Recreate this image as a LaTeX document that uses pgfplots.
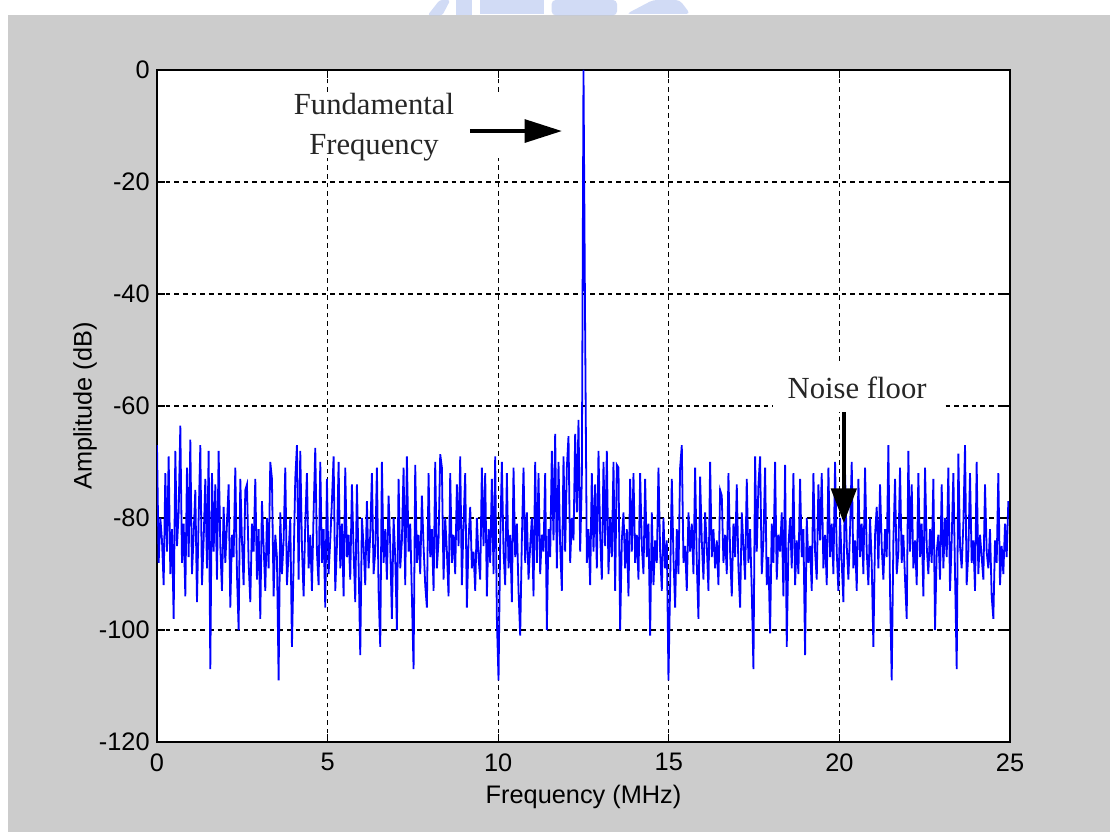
\documentclass[border=0pt]{standalone}
\usepackage{pgfplots}
\pgfplotsset{compat=1.18}
\usepackage{pgfplotstable}
\usepackage{fontspec}
\setmainfont{Liberation Sans}
\newfontfamily\timesfont{Liberation Serif}
\usetikzlibrary{arrows.meta}
\definecolor{figgray}{RGB}{204,204,204}
\definecolor{wm}{RGB}{172,190,238}

\pgfplotstableread[row sep=\\]{
y\\
-67\\ -88\\ -80\\ -84\\ -92\\ -72\\ -86\\ -69\\ -90\\ -82\\ -98\\ -68\\ -85\\ -79\\ -63.5\\ -88\\
-81\\ -94\\ -71\\ -87\\ -66\\ -90\\ -83\\ -75\\ -95\\ -80\\ -67\\ -92\\ -84\\ -73\\ -89\\ -68\\
-107\\ -72\\ -86\\ -74\\ -91\\ -68\\ -85\\ -93\\ -78\\ -88\\ -81\\ -74\\ -96\\ -83\\ -87\\ -71\\
-90\\ -100\\ -73\\ -84\\ -92\\ -75\\ -74\\ -88\\ -95\\ -81\\ -86\\ -73\\ -91\\ -82\\ -98\\ -77\\
-85\\ -93\\ -80\\ -89\\ -70\\ -73\\ -94\\ -83\\ -87\\ -109\\ -79\\ -90\\ -84\\ -71\\ -92\\ -86\\
-80\\ -103\\ -88\\ -73\\ -67\\ -91\\ -68\\ -85\\ -94\\ -81\\ -72\\ -89\\ -83\\ -93\\ -79\\ -67.5\\
-86\\ -92\\ -70\\ -88\\ -82\\ -96\\ -73\\ -90\\ -84\\ -77\\ -69\\ -93\\ -85\\ -70\\ -89\\ -81\\
-94\\ -71\\ -87\\ -83\\ -91\\ -74\\ -86\\ -95\\ -74\\ -88\\ -104.5\\ -80\\ -85\\ -92\\ -77\\ -89\\
-83\\ -72\\ -90\\ -86\\ -71\\ -93\\ -103\\ -70\\ -88\\ -82\\ -91\\ -76\\ -85\\ -98\\ -80\\ -87\\
-100\\ -73\\ -89\\ -84\\ -71\\ -92\\ -69\\ -86\\ -81\\ -94\\ -107\\ -70.5\\ -88\\ -83\\ -90\\ -76\\
-85\\ -92\\ -96\\ -72\\ -87\\ -82\\ -93\\ -70\\ -89\\ -84\\ -68.6\\ -71\\ -91\\ -80\\ -86\\ -94\\
-72\\ -88\\ -83\\ -90\\ -74\\ -85\\ -69\\ -92\\ -81\\ -72\\ -96\\ -84\\ -78\\ -89\\ -86\\ -93\\
-80\\ -87\\ -91\\ -71\\ -85\\ -72\\ -94\\ -82\\ -88\\ -73\\ -90\\ -69\\ -98\\ -109\\ -84\\ -70\\
-86\\ -92\\ -72\\ -89\\ -83\\ -95\\ -71\\ -87\\ -81\\ -93\\ -101\\ -84\\ -71\\ -88\\ -79\\ -91\\
-85\\ -80\\ -94\\ -70\\ -88\\ -72\\ -90\\ -83\\ -86\\ -72\\ -100\\ -82\\ -87\\ -68\\ -84\\ -65\\
-89\\ -70\\ -85\\ -93\\ -69\\ -86\\ -71\\ -65.4\\ -88\\ -80\\ -84\\ -65\\ -79\\ -62.5\\ -86\\ -73\\
0\\ -47\\ -88\\ -82\\ -92\\ -72\\ -86\\ -74\\ -89\\ -68\\ -83\\ -91\\ -70\\ -85\\ -68\\ -90\\
-80\\ -87\\ -70\\ -93\\ -70.5\\ -71\\ -100\\ -84\\ -79\\ -89\\ -82\\ -94\\ -73\\ -86\\ -72\\ -88\\
-83\\ -91\\ -72\\ -85\\ -90\\ -73\\ -87\\ -81\\ -101\\ -79\\ -92\\ -84\\ -88\\ -71\\ -86\\ -93\\
-80\\ -89\\ -84\\ -109\\ -92\\ -73\\ -87\\ -96\\ -82\\ -90\\ -71\\ -67\\ -88\\ -85\\ -93\\ -79\\
-86\\ -81\\ -90\\ -71\\ -88\\ -98\\ -72.6\\ -84\\ -91\\ -79\\ -85\\ -93\\ -70\\ -87\\ -82\\ -89\\
-84\\ -92\\ -75\\ -76\\ -88\\ -83\\ -90\\ -72\\ -86\\ -94\\ -81\\ -87\\ -74\\ -89\\ -96\\ -79\\
-85\\ -91\\ -73\\ -88\\ -82\\ -93\\ -107\\ -69\\ -86\\ -74\\ -69\\ -90\\ -84\\ -71\\ -92\\ -87\\
-100.6\\ -81\\ -88\\ -70\\ -91\\ -83\\ -86\\ -79\\ -94\\ -70.5\\ -103\\ -85\\ -80\\ -89\\ -72\\ -92\\
-84\\ -90\\ -73\\ -87\\ -82\\ -104.5\\ -80\\ -88\\ -85\\ -93\\ -72\\ -86\\ -91\\ -74\\ -84\\ -72\\
-89\\ -83\\ -92\\ -71\\ -87\\ -81\\ -90\\ -70\\ -86\\ -93\\ -80\\ -88\\ -95\\ -72\\ -85\\ -91\\
-82\\ -70\\ -89\\ -84\\ -93\\ -73\\ -87\\ -81\\ -90\\ -71\\ -86\\ -92\\ -80\\ -88\\ -103\\ -83\\
-78\\ -89\\ -74\\ -85\\ -91\\ -82\\ -87\\ -67\\ -93\\ -109\\ -84\\ -73\\ -90\\ -86\\ -71\\ -88\\
-83\\ -91\\ -98\\ -68\\ -86\\ -74\\ -89\\ -84\\ -92\\ -72\\ -87\\ -81\\ -94\\ -71\\ -85\\ -90\\
-82\\ -88\\ -73\\ -100\\ -86\\ -83\\ -91\\ -74\\ -89\\ -80\\ -87\\ -71\\ -93\\ -84\\ -72\\ -90\\
-107\\ -68.5\\ -85\\ -89\\ -81\\ -67\\ -92\\ -86\\ -72\\ -88\\ -84\\ -93\\ -70\\ -90\\ -83\\ -87\\
-91\\ -74\\ -86\\ -89\\ -82\\ -94\\ -98\\ -84\\ -88\\ -72\\ -92\\ -85\\ -90\\ -81\\ -87\\ -77\\
}\noisetable

\begin{document}
\begin{tikzpicture}
% figure background
\fill[white] (-117.75pt,-67.5pt) rectangle (714.75pt,556.5pt);
\fill[figgray] (-111.75pt,-67.5pt) rectangle (714.75pt,545.25pt);
% faint watermark fragment at the top
\begin{scope}[wm, opacity=0.55]
\fill[rounded corners=2pt] (203pt,545pt) -- (212pt,556.5pt) -- (220pt,556.5pt) -- (214pt,545pt) -- cycle;
\fill (224pt,545pt) rectangle (236pt,556.5pt);
\fill (242pt,546pt) rectangle (290pt,556.5pt);
\fill[rounded corners=3pt] (296pt,545pt) rectangle (345pt,556.5pt);
\fill[rounded corners=3pt] (352pt,546pt) -- (372pt,556.5pt) -- (392pt,556.5pt) -- (400pt,546pt) -- cycle;
\end{scope}
\begin{axis}[
  at={(0,0)}, anchor=south west,
  scale only axis, width=639.75pt, height=504pt,
  xmin=0, xmax=25, ymin=-120, ymax=0,
  xtick={0,5,...,25}, ytick={-120,-100,...,0},
  grid=major,
  major grid style={black, line width=0.9pt, dash pattern=on 3.5pt off 3pt},
  axis line style={black, line width=1pt},
  tick style={black, line width=0.9pt},
  tick align=inside, major tick length=6pt,
  axis background/.style={fill=white},
  /pgf/number format/assume math mode=true,
  ticklabel style={font=\fontsize{19}{19}\selectfont, text=black},
  xticklabel style={yshift=-5pt},
  yticklabel style={xshift=-2pt},
  xlabel={Frequency (MHz)}, ylabel={Amplitude (dB)},
  label style={font=\fontsize{19}{19}\selectfont},
  xlabel style={at={(axis description cs:0.5,-0.082)}, anchor=center},
  ylabel style={at={(axis description cs:-0.0844,0.5)}, anchor=center, rotate=0},
]
\addplot[color={rgb,255:red,0;green,0;blue,255}, line width=1.35pt, line join=miter]
  table[x expr=\coordindex*25/512, y=y] {\noisetable};

% annotation backgrounds
\fill[white] (axis cs:3.60,-4.64) rectangle (axis cs:11.99,-15.71);
\fill[white] (axis cs:18.05,-52.1) rectangle (axis cs:23.09,-61.0);

\node[font=\timesfont\fontsize{23}{30}\selectfont, align=center, text=black!85]
  at (axis cs:6.36,-10.2) {Fundamental\\Frequency};
\draw[line width=3pt, -{Triangle[length=28pt,width=17pt]}]
  (axis cs:9.17,-10.9) -- (axis cs:11.87,-10.9);

\node[font=\timesfont\fontsize{23}{30}\selectfont, text=black!85]
  at (axis cs:20.52,-56.8) {Noise floor};
\draw[line width=3pt, -{Triangle[length=26pt,width=19pt]}]
  (axis cs:20.13,-61.1) -- (axis cs:20.13,-80.9);
\end{axis}
\end{tikzpicture}
\end{document}
